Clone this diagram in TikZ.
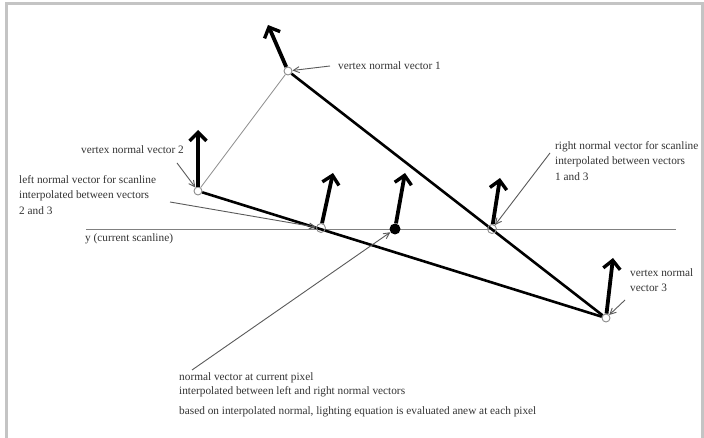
\documentclass[tikz,border=0pt]{standalone}
\usepackage{fontspec}
\setmainfont{Liberation Serif}
\usetikzlibrary{arrows.meta}
\definecolor{inkgray}{HTML}{333333}
\definecolor{pointgray}{HTML}{5A5A5A}
\definecolor{framegray}{HTML}{C4C4C4}
\tikzset{
  edgethick/.style={line width=2.6pt, black},
  edgethin/.style={line width=0.8pt, black!45},
  scanline/.style={line width=0.9pt, black!50},
  normalvec/.style={line width=3.8pt, black, -{Straight Barb[length=8.5pt,width=17pt,line width=3.4pt]}},
  pointer/.style={line width=0.9pt, pointgray, -{Straight Barb[length=6pt,width=6pt]}},
  hollow/.style={circle, draw=black!45, line width=0.9pt, fill=white, minimum size=8pt, inner sep=0pt},
  ring/.style={circle, draw=black!45, line width=0.9pt, minimum size=9pt, inner sep=0pt},
  solid dot/.style={circle, fill=black, minimum size=11pt, inner sep=0pt},
  label text/.style={text=inkgray, font=\fontsize{11.3}{15.5}\selectfont, inner sep=0pt, align=left, anchor=west},
}
\begin{document}
\begin{tikzpicture}[x=1pt,y=-1pt]
\useasboundingbox (0,0) rectangle (704,438);
\fill[white] (0,0) rectangle (704,438);
% frame
\draw[framegray, line width=3pt] (6,438) -- (6,4) -- (702,4) -- (702,438);

% triangle vertices and scanline ends
\node[hollow] (v1) at (288,71) {};
\node[hollow] (v2) at (198,191) {};
\node[hollow] (v3) at (606,318) {};
\coordinate (sl-a) at (86,229);
\coordinate (sl-b) at (676,229);

% scanline
\draw[scanline] (sl-a) -- (sl-b);

% triangle edges
\draw[edgethin] (v1) -- (v2);
\draw[edgethick] (v1) -- (v3);
\draw[edgethick] (v2) -- (v3);

% points on the scanline
\node[ring] (lp) at (321,228) {};
\node[ring] (rp) at (492,229) {};
\node[solid dot] (px) at (395,229) {};

% normal vectors
\coordinate (n1) at (268,25);
\coordinate (n2) at (198,130);
\coordinate (nl) at (333,173);
\coordinate (np) at (405,173);
\coordinate (nr) at (500,178);
\coordinate (n3) at (613,258);
\draw[normalvec] (v1) -- (n1);
\draw[normalvec] (v2) -- (n2);
\draw[normalvec] (lp) -- (nl);
\draw[normalvec] (px) -- (np);
\draw[normalvec] (rp) -- (nr);
\draw[normalvec] (v3) -- (n3);

% labels
\node[label text] (t1) at (338,66) {vertex normal vector 1};
\node[label text] (t2) at (81,150) {vertex normal vector 2};
\node[label text] (tl) at (19,195) {left normal vector for scanline\\interpolated between vectors\\2 and 3};
\node[label text] (ty) at (85,239) {y (current scanline)};
\node[label text] (tr) at (555,161) {right normal vector for scanline\\interpolated between vectors\\1 and 3};
\node[label text, font=\fontsize{11.3}{14.5}\selectfont] (t3) at (630,280) {vertex normal\\vector 3};
\node[label text, font=\fontsize{11.3}{14.5}\selectfont] (tp) at (179,385) {normal vector at current pixel\\interpolated between left and right normal vectors};
\node[label text] (tb) at (179,412) {based on interpolated normal, lighting equation is evaluated anew at each pixel};

% pointer lines
\coordinate (p1) at (330,66);
\coordinate (p2) at (177,163);
\coordinate (pl) at (170,202);
\coordinate (pr) at (550,153);
\coordinate (p3) at (625,300);
\coordinate (pp) at (192,370);
\draw[pointer] (p1) -- (v1);
\draw[pointer] (p2) -- (v2);
\draw[pointer] (pl) -- (lp);
\draw[pointer] (pr) -- (rp);
\draw[pointer] (p3) -- (v3);
\draw[pointer] (pp) -- (px);
\end{tikzpicture}
\end{document}
